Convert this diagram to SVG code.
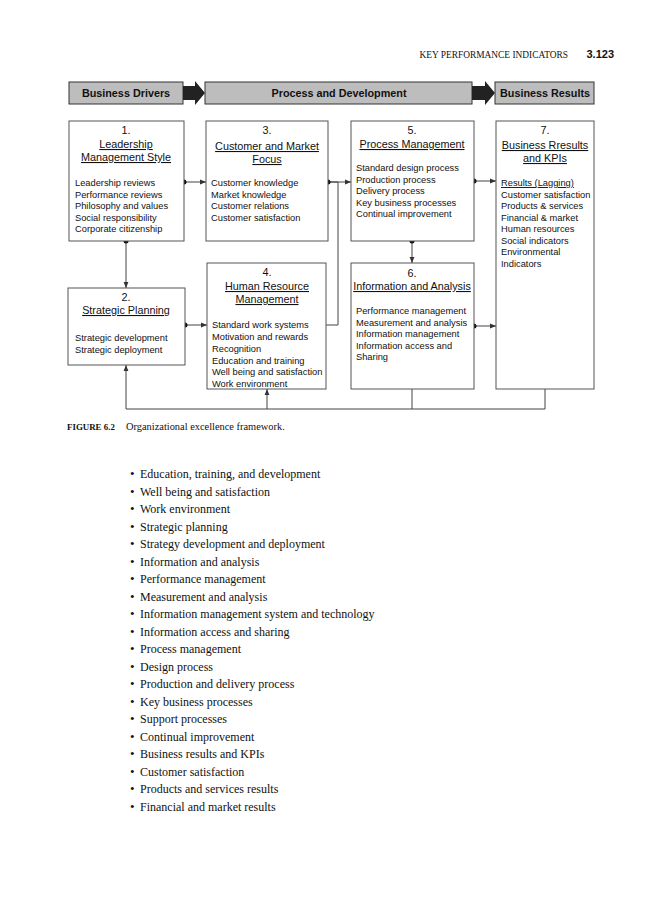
<svg xmlns="http://www.w3.org/2000/svg" width="662" height="900" viewBox="0 0 662 900">
<defs>
<style>
.ban{fill:#bdbdbd;stroke:#333;stroke-width:1}
.bt{font-family:"Liberation Sans",Arial,sans-serif;font-weight:bold;font-size:10.8px;fill:#111;text-anchor:middle}
.box{fill:#fff;stroke:#555;stroke-width:1}
.num{font-family:"Liberation Sans",Arial,sans-serif;font-size:10.8px;fill:#111;text-anchor:middle}
.ttl{font-family:"Liberation Sans",Arial,sans-serif;font-size:10.8px;fill:#111;text-anchor:middle;text-decoration:underline}
.it{font-family:"Liberation Sans",Arial,sans-serif;font-size:9.3px;fill:#111}
.ln{fill:none;stroke:#444;stroke-width:1}
.dot{fill:#111}
.ser{font-family:"Liberation Serif","Times New Roman",serif;fill:#111}
</style>
<marker id="ah" viewBox="0 0 10 10" refX="10" refY="5" markerWidth="6" markerHeight="6" markerUnits="userSpaceOnUse" orient="auto">
<path d="M0,1 L10,5 L0,9 Z" fill="#333"/>
</marker>
</defs>

<g id="page-header">
<text class="ser" x="568" y="58" font-size="9.4" text-anchor="end">KEY PERFORMANCE INDICATORS</text>
<text x="614" y="58" font-family="Liberation Sans,Arial,sans-serif" font-weight="bold" font-size="11" text-anchor="end" fill="#111">3.123</text>
</g>

<g id="banner">
<rect class="ban" x="69" y="82" width="114" height="22"/>
<text class="bt" x="126" y="97">Business Drivers</text>
<polygon points="183,86 195,86 195,81 205,93 195,105 195,100 183,100" fill="#222"/>
<rect class="ban" x="205" y="82" width="267" height="22"/>
<text class="bt" x="339" y="97">Process and Development</text>
<polygon points="472,86 485,86 485,81 495,93 485,105 485,100 472,100" fill="#222"/>
<rect class="ban" x="495" y="82" width="99" height="22"/>
<text class="bt" x="545" y="97">Business Results</text>
</g>

<g id="connectors">
<line class="ln" x1="184" y1="182" x2="206" y2="182" marker-end="url(#ah)"/>
<line class="ln" x1="328" y1="182" x2="351" y2="182" marker-end="url(#ah)"/>
<polyline class="ln" points="328,182 338,182 338,325 326,325"/>
<line class="ln" x1="474" y1="181" x2="496" y2="181" marker-end="url(#ah)"/>
<line class="ln" x1="412" y1="241" x2="412" y2="263" marker-end="url(#ah)"/>
<line class="ln" x1="126" y1="241" x2="126" y2="288" marker-end="url(#ah)"/>
<line class="ln" x1="185" y1="325" x2="207" y2="325" marker-end="url(#ah)"/>
<line class="ln" x1="474" y1="326" x2="496" y2="326" marker-end="url(#ah)"/>
<polyline class="ln" points="412,389 412,409"/>
<polyline class="ln" points="545,389 545,409 126,409"/>
<line class="ln" x1="126" y1="409" x2="126" y2="365" marker-end="url(#ah)"/>
<line class="ln" x1="267" y1="409" x2="267" y2="389" marker-end="url(#ah)"/>
<circle class="dot" cx="184" cy="182" r="2.5"/>
<circle class="dot" cx="328" cy="182" r="2.5"/>
<circle class="dot" cx="474" cy="181" r="2.5"/>
<circle class="dot" cx="412" cy="241" r="2.5"/>
<circle class="dot" cx="126" cy="241" r="2.5"/>
<circle class="dot" cx="185" cy="325" r="2.5"/>
<circle class="dot" cx="474" cy="326" r="2.5"/>
</g>

<g id="node1">
<rect class="box" x="69" y="121" width="115" height="120"/>
<text class="num" x="126" y="134">1.</text>
<text class="ttl" x="126" y="148">Leadership</text>
<text class="ttl" x="126" y="161">Management Style</text>
<text class="it" x="75" y="186">Leadership reviews</text>
<text class="it" x="75" y="197.5">Performance reviews</text>
<text class="it" x="75" y="209">Philosophy and values</text>
<text class="it" x="75" y="220.5">Social responsibility</text>
<text class="it" x="75" y="232">Corporate citizenship</text>
</g>

<g id="node3">
<rect class="box" x="206" y="121" width="122" height="120"/>
<text class="num" x="267" y="134">3.</text>
<text class="ttl" x="267" y="150">Customer and Market</text>
<text class="ttl" x="267" y="163">Focus</text>
<text class="it" x="211" y="186">Customer knowledge</text>
<text class="it" x="211" y="197.5">Market knowledge</text>
<text class="it" x="211" y="209">Customer relations</text>
<text class="it" x="211" y="220.5">Customer satisfaction</text>
</g>

<g id="node5">
<rect class="box" x="351" y="121" width="123" height="120"/>
<text class="num" x="412" y="134">5.</text>
<text class="ttl" x="412" y="148">Process Management</text>
<text class="it" x="356" y="171">Standard design process</text>
<text class="it" x="356" y="182.5">Production process</text>
<text class="it" x="356" y="194">Delivery process</text>
<text class="it" x="356" y="205.5">Key business processes</text>
<text class="it" x="356" y="217">Continual improvement</text>
</g>

<g id="node7">
<rect class="box" x="496" y="121" width="98" height="268"/>
<text class="num" x="545" y="134">7.</text>
<text class="ttl" x="545" y="149">Business Rresults</text>
<text class="ttl" x="545" y="162">and KPIs</text>
<text class="it" x="501" y="186" text-decoration="underline">Results (Lagging)</text>
<text class="it" x="501" y="197.5">Customer satisfaction</text>
<text class="it" x="501" y="209">Products &amp; services</text>
<text class="it" x="501" y="220.5">Financial &amp; market</text>
<text class="it" x="501" y="232">Human resources</text>
<text class="it" x="501" y="243.5">Social indicators</text>
<text class="it" x="501" y="255">Environmental</text>
<text class="it" x="501" y="266.5">Indicators</text>
</g>

<g id="node6">
<rect class="box" x="351" y="263" width="123" height="126"/>
<text class="num" x="412" y="277">6.</text>
<text class="ttl" x="412" y="290">Information and Analysis</text>
<text class="it" x="356" y="314">Performance management</text>
<text class="it" x="356" y="325.5">Measurement and analysis</text>
<text class="it" x="356" y="337">Information management</text>
<text class="it" x="356" y="348.5">Information access and</text>
<text class="it" x="356" y="360">Sharing</text>
</g>

<g id="node2">
<rect class="box" x="68" y="288" width="117" height="77"/>
<text class="num" x="126" y="301">2.</text>
<text class="ttl" x="126" y="314">Strategic Planning</text>
<text class="it" x="75" y="341">Strategic development</text>
<text class="it" x="75" y="353">Strategic deployment</text>
</g>

<g id="node4">
<rect class="box" x="207" y="263" width="119" height="126"/>
<text class="num" x="267" y="276">4.</text>
<text class="ttl" x="267" y="290">Human Resource</text>
<text class="ttl" x="267" y="303">Management</text>
<text class="it" x="212" y="328">Standard work systems</text>
<text class="it" x="212" y="340">Motivation and rewards</text>
<text class="it" x="212" y="352">Recognition</text>
<text class="it" x="212" y="363.5">Education and training</text>
<text class="it" x="212" y="375">Well being and satisfaction</text>
<text class="it" x="212" y="386.5">Work environment</text>
</g>

<g id="caption">
<text class="ser" x="67" y="430" font-size="8.9" font-weight="bold">FIGURE 6.2</text>
<text class="ser" x="126" y="430" font-size="10.4">Organizational excellence framework.</text>
</g>

<g id="bullets" class="ser" font-size="12">
<text x="130" y="478" font-size="13">•</text><text x="140" y="478">Education, training, and development</text>
<text x="130" y="495.5" font-size="13">•</text><text x="140" y="495.5">Well being and satisfaction</text>
<text x="130" y="513" font-size="13">•</text><text x="140" y="513">Work environment</text>
<text x="130" y="530.5" font-size="13">•</text><text x="140" y="530.5">Strategic planning</text>
<text x="130" y="548" font-size="13">•</text><text x="140" y="548">Strategy development and deployment</text>
<text x="130" y="565.5" font-size="13">•</text><text x="140" y="565.5">Information and analysis</text>
<text x="130" y="583" font-size="13">•</text><text x="140" y="583">Performance management</text>
<text x="130" y="600.5" font-size="13">•</text><text x="140" y="600.5">Measurement and analysis</text>
<text x="130" y="618" font-size="13">•</text><text x="140" y="618">Information management system and technology</text>
<text x="130" y="635.5" font-size="13">•</text><text x="140" y="635.5">Information access and sharing</text>
<text x="130" y="653" font-size="13">•</text><text x="140" y="653">Process management</text>
<text x="130" y="670.5" font-size="13">•</text><text x="140" y="670.5">Design process</text>
<text x="130" y="688" font-size="13">•</text><text x="140" y="688">Production and delivery process</text>
<text x="130" y="705.5" font-size="13">•</text><text x="140" y="705.5">Key business processes</text>
<text x="130" y="723" font-size="13">•</text><text x="140" y="723">Support processes</text>
<text x="130" y="740.5" font-size="13">•</text><text x="140" y="740.5">Continual improvement</text>
<text x="130" y="758" font-size="13">•</text><text x="140" y="758">Business results and KPIs</text>
<text x="130" y="775.5" font-size="13">•</text><text x="140" y="775.5">Customer satisfaction</text>
<text x="130" y="793" font-size="13">•</text><text x="140" y="793">Products and services results</text>
<text x="130" y="810.5" font-size="13">•</text><text x="140" y="810.5">Financial and market results</text>
</g>
</svg>
